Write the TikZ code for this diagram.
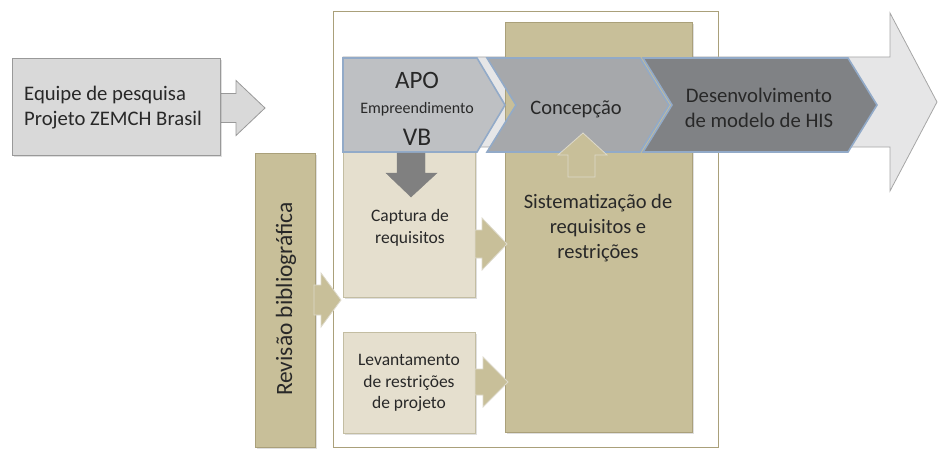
\documentclass[tikz,border=0pt]{standalone}
\usepackage{fontspec}
\setmainfont{Carlito}
\usetikzlibrary{shadows}
\definecolor{tan}{RGB}{200,191,153}
\definecolor{tanline}{RGB}{170,160,122}
\definecolor{lighttan}{RGB}{229,223,206}
\definecolor{lgray}{RGB}{217,217,217}
\definecolor{bgarrow}{RGB}{230,230,231}
\definecolor{chevA}{RGB}{190,192,195}
\definecolor{chevB}{RGB}{166,168,171}
\definecolor{chevC}{RGB}{128,130,133}
\definecolor{chevline}{RGB}{146,170,200}
\definecolor{darkarrow}{RGB}{128,128,128}
\definecolor{txt}{RGB}{40,40,40}
\tikzset{
  shd/.style={drop shadow={opacity=0.25, shadow xshift=1.5pt, shadow yshift=-1.5pt}},
  tanbox/.style={fill=tan, draw=tanline, line width=0.8pt, shd},
  lightbox/.style={fill=lighttan, draw=tanline!70, line width=0.8pt, shd},
  tanarrow/.style={fill=tan, draw=white!60!tanline, line width=0.8pt},
  grayshape/.style={fill=lgray, draw=gray!80, line width=0.8pt},
  chevron/.style={draw=chevline, line width=1.6pt, line join=miter},
  lbl/.style={text=txt, align=center, inner sep=0pt},
}
\newcommand\blockRight[6]{% x0 x1 x2 yc bodyhalf headhalf
  (#1,#4-#5) -- (#2,#4-#5) -- (#2,#4-#6) -- (#3,#4) -- (#2,#4+#6) -- (#2,#4+#5) -- (#1,#4+#5) -- cycle}
\begin{document}
\begin{tikzpicture}[x=1pt,y=-1pt]
\useasboundingbox (0,0) rectangle (938,452);

% left team arrow
\draw[grayshape] \blockRight{215}{236}{265}{108}{14.5}{27.5};
\node[grayshape, shd, minimum width=208pt, minimum height=97pt, anchor=north west, inner sep=0pt] (team) at (12,58) {};
\node[lbl, align=left, anchor=west, font=\fontsize{20.7}{25}\selectfont] (teamtxt) at (24,108) {Equipe de pesquisa\\Projeto ZEMCH Brasil};

% outer frame
\node[draw=tanline, fill=white, line width=0.8pt, minimum width=385pt, minimum height=436pt, anchor=north west, inner sep=0pt] (frame) at (333,11) {};

% big background arrow
\draw[fill=bgarrow, draw=gray!70, line width=0.8pt] \blockRight{343}{890}{937}{102}{45}{89};

% Sistematizacao
\node[tanbox, minimum width=187pt, minimum height=410pt, anchor=north west, inner sep=0pt] (sist) at (505,22) {};
\node[lbl, font=\fontsize{20.5}{25}\selectfont] (sisttxt) at (598,228) {Sistematização de\\requisitos e\\restrições};

% Captura and Levantamento boxes
\node[lightbox, minimum width=132pt, minimum height=147pt, anchor=north west, inner sep=0pt] (capt) at (343,150) {};
\node[lbl, font=\fontsize{17.5}{21.5}\selectfont] (capttxt) at (410,228) {Captura de\\requisitos};
\node[lightbox, minimum width=132pt, minimum height=101pt, anchor=north west, inner sep=0pt] (lev) at (343,332) {};
\node[lbl, font=\fontsize{17.5}{21.7}\selectfont] (levtxt) at (409,383) {Levantamento\\de restrições\\de projeto};

% Revisao
\node[tanbox, minimum width=60pt, minimum height=294pt, anchor=north west, inner sep=0pt] (rev) at (255,153) {};
\node[lbl, rotate=90, font=\fontsize{23.4}{24}\selectfont] (revtxt) at (286,299) {Revisão bibliográfica};

% tan arrows
\draw[tanarrow] \blockRight{314}{321}{341}{300}{15}{27};
\draw[tanarrow] \blockRight{475}{482}{507}{244}{14}{26};
\draw[tanarrow] \blockRight{475}{483}{508}{382}{13}{25};

% chevrons
\draw[chevron, fill=chevC] (643,58) -- (848,58) -- (877,105) -- (848,152) -- (643,152) -- (672,105) -- cycle;
\draw[chevron, fill=chevB] (487,58) -- (640,58) -- (669,105) -- (640,152) -- (487,152) -- (516,105) -- cycle;
\draw[chevron, fill=chevA] (343,58) -- (477,58) -- (505,105) -- (477,152) -- (343,152) -- cycle;

\node[lbl, font=\fontsize{25}{25}\selectfont] (apo) at (417,80) {APO};
\node[lbl, font=\fontsize{16}{16}\selectfont] (emp) at (417,109) {Empreendimento};
\node[lbl, font=\fontsize{25.5}{25}\selectfont] (vb) at (417,137) {VB};
\node[lbl, font=\fontsize{20.5}{20}\selectfont] (conc) at (576,109) {Concepção};
\node[lbl, font=\fontsize{20.7}{25}\selectfont] (desen) at (759,108) {Desenvolvimento\\de modelo de HIS};

% down gray arrow
\draw[fill=darkarrow, draw=darkarrow] (397,153) -- (425,153) -- (425,173) -- (437,173) -- (411,197) -- (386,173) -- (397,173) -- cycle;
% up tan arrow
\draw[tanarrow] (568,177) -- (595,177) -- (595,155) -- (607,155) -- (583,133) -- (558,155) -- (568,155) -- cycle;

\end{tikzpicture}
\end{document}
